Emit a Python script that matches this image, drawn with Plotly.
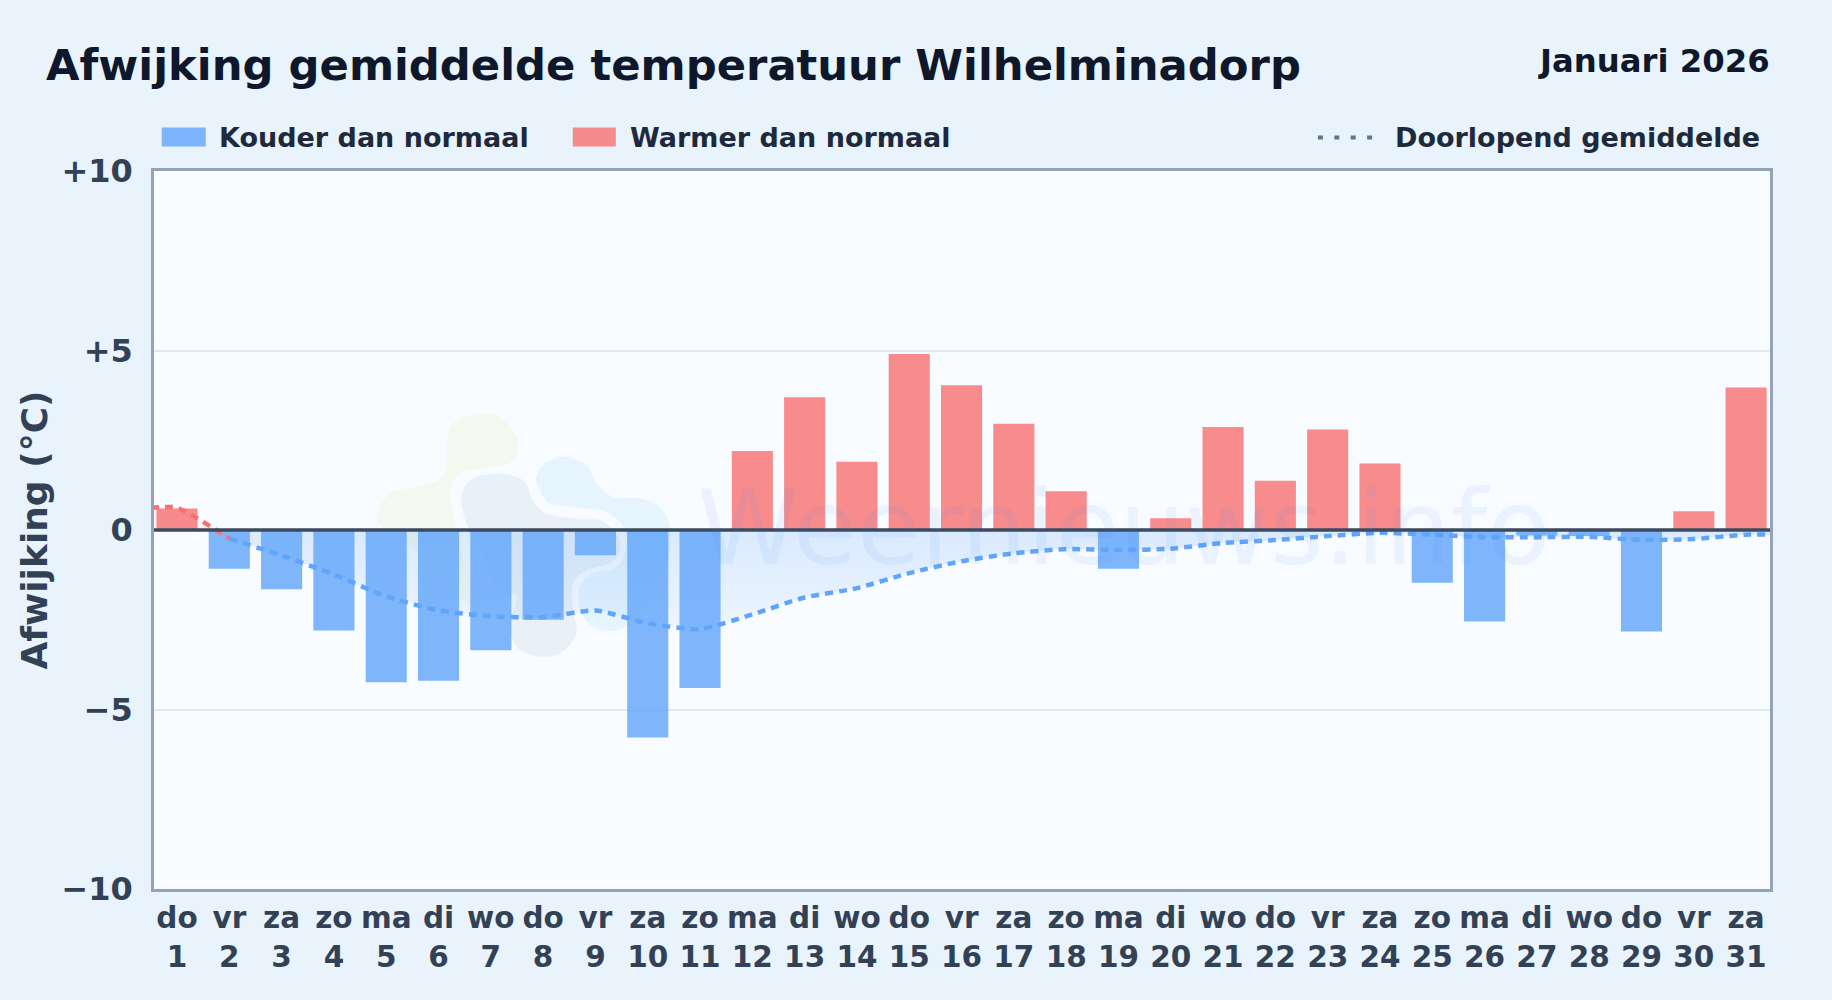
import plotly.graph_objects as go

FONT = "DejaVu Sans"
weekdays = ["do","vr","za","zo","ma","di","wo","do","vr","za","zo","ma","di","wo","do","vr","za","zo","ma","di","wo","do","vr","za","zo","ma","di","wo","do","vr","za"]
days = list(range(1, 32))
deviation = [0.6,-1.08,-1.65,-2.8,-4.24,-4.2,-3.35,-2.5,-0.7,-5.78,-4.4,2.2,3.7,1.9,4.9,4.03,2.96,1.08,-1.08,0.33,2.87,1.37,2.8,1.85,-1.47,-2.55,-0.15,-0.17,-2.83,0.52,3.97]
running_mean = [0.62,-0.24,-0.71,-1.24,-1.85,-2.24,-2.4,-2.43,-2.24,-2.6,-2.76,-2.35,-1.88,-1.62,-1.2,-0.87,-0.65,-0.53,-0.56,-0.52,-0.36,-0.28,-0.17,-0.08,-0.13,-0.2,-0.2,-0.19,-0.28,-0.25,-0.13]
y_ticks = [-10,-5,0,5,10]
y_tick_labels = ["−10","−5","0","+5","+10"]

PL, PR, PT, PB = 154.3, 1770.0, 170.5, 889.0
W, H = 1832, 1000
BLUE_BAR = "rgba(96,165,250,0.8)"
RED_BAR = "rgba(248,113,113,0.8)"
BLUE_LINE = "#60a5fa"
RED_LINE = "#f87171"

cold = [v if v < 0 else None for v in deviation]
warm = [v if v >= 0 else None for v in deviation]

fig = go.Figure()
fig.add_bar(x=days, y=cold, name="Kouder dan normaal", marker=dict(color=BLUE_BAR, line_width=0), width=0.786)
fig.add_bar(x=days, y=warm, name="Warmer dan normaal", marker=dict(color=RED_BAR, line_width=0), width=0.786)
DASH = "8px,6px"
fig.add_scatter(x=[0.5] + days[:2], y=[running_mean[0]] + running_mean[:2], mode="lines", name="Doorlopend gemiddelde",
                line=dict(color=RED_LINE, width=4.5, shape="spline", smoothing=0.6, dash=DASH),
                fill="tozeroy", fillcolor="rgba(248,113,113,0.07)")
fig.add_scatter(x=days[1:] + [31.5], y=running_mean[1:] + [running_mean[-1]], mode="lines", name="Doorlopend gemiddelde",
                line=dict(color=BLUE_LINE, width=4.5, shape="spline", smoothing=0.6, dash=DASH),
                fill="tozeroy",
                fillgradient=dict(type="vertical", colorscale=[[0, "rgba(96,165,250,0.06)"], [1, "rgba(96,165,250,0.2)"]], start=-3, stop=0))


def to_paper(px, py):
    return (px - PL) / (PR - PL), (PB - py) / (PB - PT)


def blob(points):
    pts = [(360 + a / 3, 390 + b / 3) for a, b in points]
    n = len(pts)
    x0, y0 = to_paper(*pts[0])
    d = f"M{x0:.5f},{y0:.5f}"
    for i in range(n):
        p0, p1, p2, p3 = pts[i - 1], pts[i], pts[(i + 1) % n], pts[(i + 2) % n]
        c1 = to_paper(p1[0] + (p2[0] - p0[0]) / 6, p1[1] + (p2[1] - p0[1]) / 6)
        c2 = to_paper(p2[0] - (p3[0] - p1[0]) / 6, p2[1] - (p3[1] - p1[1]) / 6)
        e = to_paper(*p2)
        d += f"C{c1[0]:.5f},{c1[1]:.5f} {c2[0]:.5f},{c2[1]:.5f} {e[0]:.5f},{e[1]:.5f}"
    return d + "Z"


green_blob = [(265,130),(300,85),(370,70),(430,85),(470,140),(470,190),(440,222),(360,235),(300,250),(272,310),(285,400),(310,500),(350,600),(370,650),(290,620),(230,530),(130,450),(60,400),(60,350),(100,305),(190,285),(255,250)]
gray_blob = [(305,320),(340,265),(420,250),(490,270),(520,330),(560,370),(640,385),(720,390),(770,430),(780,480),(750,520),(680,540),(640,580),(640,660),(650,730),(600,790),(530,798),(470,770),(450,700),(470,620),(420,600),(360,480),(320,400)]
blue_blob = [(530,260),(560,215),(620,200),(680,225),(710,280),(760,320),(840,325),(900,350),(930,410),(925,520),(880,620),(810,700),(760,722),(700,710),(660,660),(660,590),(700,550),(770,530),(800,470),(790,410),(740,365),(640,350),(570,340),(540,300)]
shapes = []
for pts, col in [(green_blob, "#f3f9ef"), (gray_blob, "#e8f0f8"), (blue_blob, "#e6f4fe")]:
    shapes.append(dict(type="path", xref="paper", yref="paper", path=blob(pts), fillcolor=col, line_width=0, layer="below"))

# zero line on top of the bars
shapes.append(dict(type="line", xref="paper", yref="y", x0=0, x1=1, y0=0, y1=0, line=dict(color="#3b4a5f", width=3.6), layer="above"))


def px_shape(kind, x0, x1, y0, y1, **kw):
    return dict(type=kind, xref="paper", yref="paper",
                x0=(x0 - PL) / (PR - PL), x1=(x1 - PL) / (PR - PL),
                y0=(PB - y0) / (PB - PT), y1=(PB - y1) / (PB - PT), **kw)


shapes.append(px_shape("rect", 162, 206, 127, 146, fillcolor=BLUE_BAR, line_width=0))
shapes.append(px_shape("rect", 573, 616, 127, 146, fillcolor=RED_BAR, line_width=0))
shapes.append(px_shape("line", 1318, 1374, 137, 137, line=dict(color="#64748b", width=4, dash="5px,11.4px")))


def text(s, px, py, size, color, anchor="left", bold=True):
    return dict(text=s, xref="paper", yref="paper", x=(px - PL) / (PR - PL), y=(PB - py) / (PB - PT),
                xanchor=anchor, yanchor="middle", showarrow=False,
                font=dict(family=FONT, size=size, color=color, weight=700 if bold else 400))


annotations = [
    text("Weernieuws.info", 1124, 528, 103.5, "rgba(59,130,246,0.075)", anchor="center", bold=False),
    text("Januari 2026", 1772, 60, 32.3, "#0f172a", anchor="right"),
    text("Kouder dan normaal", 217, 137, 27, "#1e293b"),
    text("Warmer dan normaal", 628, 137, 27, "#1e293b"),
    text("Doorlopend gemiddelde", 1393, 137, 27, "#1e293b"),
]

fig.update_layout(
    width=W, height=H, autosize=False,
    paper_bgcolor="#e8f3fc", plot_bgcolor="#f8fbff",
    margin=dict(l=PL, r=W - PR, t=PT, b=H - PB, pad=0),
    barmode="overlay", showlegend=False,
    font=dict(family=FONT),
    title=dict(text="Afwijking gemiddelde temperatuur Wilhelminadorp", x=46 / W, xref="container", xanchor="left",
               y=1 - 65 / H, yref="container", yanchor="middle",
               font=dict(family=FONT, size=43.3, color="#0f172a", weight=700)),
    shapes=shapes, annotations=annotations,
    xaxis=dict(range=[0.56, 31.457], tickmode="array", tickvals=days,
               ticktext=[f"{w}<br>{d}" for w, d in zip(weekdays, days)],
               tickfont=dict(family=FONT, size=29.5, color="#334155", weight=700), tickangle=0,
               showgrid=False, zeroline=False, showline=True, mirror=True, linecolor="#94a3b8", linewidth=2.5,
               ticks="", ticklabelstandoff=1),
    yaxis=dict(range=[-10, 10], tickmode="array", tickvals=y_ticks, ticktext=y_tick_labels,
               tickfont=dict(family=FONT, size=32, color="#334155", weight=700),
               showgrid=True, gridcolor="#e2e8f0", gridwidth=1.5, zeroline=False,
               showline=True, mirror=True, linecolor="#94a3b8", linewidth=2.5, ticks="", ticklabelstandoff=12,
               title=dict(text="Afwijking (°C)", standoff=3, font=dict(family=FONT, size=36, color="#334155", weight=700))),
)

fig.write_html("out.html", config=dict(displayModeBar=False),
               post_script="document.body.style.margin='0';document.body.style.background='#e8f3fc';document.documentElement.style.overflow='hidden';")
